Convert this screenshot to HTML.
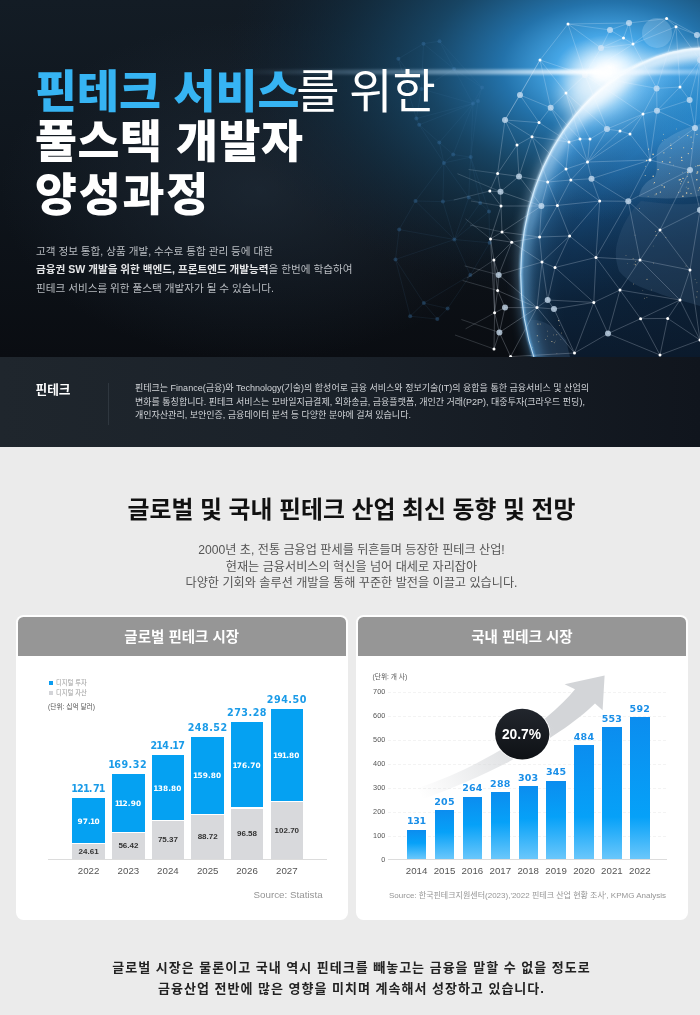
<!DOCTYPE html>
<html lang="ko"><head><meta charset="utf-8"><title>핀테크 서비스를 위한 풀스택 개발자 양성과정</title>
<style>
*{margin:0;padding:0;box-sizing:border-box}
html,body{width:700px;height:1015px;overflow:hidden;background:#ebebeb}
body{position:relative;font-family:'Liberation Sans','Noto Sans CJK KR',sans-serif;}
.a{position:absolute;white-space:nowrap}
#hero{position:absolute;left:0;top:0;width:700px;height:357px;overflow:hidden;
 background:linear-gradient(180deg,#131c25 0%,#0e141b 55%,#0a0d12 100%);}
#hero svg{position:absolute;left:0;top:0}
.t1{position:absolute;left:35px;top:66px;font-family:'Liberation Sans','Noto Sans CJK KR',sans-serif;font-weight:900;font-size:45.6px;line-height:51.5px;color:#fff;white-space:nowrap;}
.t1 .b{color:#36b4f3}
.t1 .l{font-weight:400;margin-left:-3px;font-size:47px;word-spacing:-3.5px}
.hp{position:absolute;left:36px;top:242px;font-size:10.6px;line-height:18.3px;color:#b9bdc2;font-weight:400;white-space:nowrap}
.hp b{font-weight:700;color:#e4e5e7}
#band{position:absolute;left:0;top:357px;width:700px;height:90px;background:linear-gradient(90deg,#1f262d 0%,#1a2129 50%,#10151d 100%)}
.bl{position:absolute;left:35.5px;top:21.5px;font-size:12.7px;font-weight:700;color:#fff;white-space:nowrap}
.bd{position:absolute;left:107.5px;top:26px;width:1px;height:42px;background:#2f373f}
.bp{position:absolute;left:135px;top:25.2px;font-size:9px;line-height:13.6px;color:#d2d5d9;font-weight:400;white-space:nowrap}
.st{position:absolute;left:1.5px;width:700px;top:489.5px;text-align:center;font-size:23.85px;font-weight:700;color:#111;white-space:nowrap;letter-spacing:0}
.sp{position:absolute;left:1.5px;width:700px;top:542px;text-align:center;font-size:12.15px;line-height:16.7px;color:#555;white-space:nowrap}
.card{position:absolute;top:615px;height:305px;background:#fff;border-radius:7.5px;overflow:hidden}
.ch{position:absolute;left:1.8px;top:1.8px;right:1.8px;height:39.4px;border-radius:5.5px 5.5px 0 0;background:#969696;color:#fff;font-size:14.5px;font-weight:700;text-align:center;line-height:40px}
.bb{position:absolute;background:#05a1f2}
.bg{position:absolute;background:#d8d9dc}
.lt,.li,.lg,.ly,.rt{position:absolute;width:60px;text-align:center;white-space:nowrap;font-family:'Liberation Sans',sans-serif}
.lt{font-family:'DejaVu Sans',sans-serif;font-size:9.6px;letter-spacing:.5px;font-weight:700;color:#1a9be8;line-height:12px}
.li{font-family:'DejaVu Sans',sans-serif;font-size:7.4px;letter-spacing:.1px;font-weight:700;color:#fff;line-height:12px}
.n3{font-style:normal;margin:0 -.9px}
.lg{font-size:8px;font-weight:700;color:#333;line-height:12px}
.ly{font-size:9.7px;color:#555;line-height:12px}
.rt{font-family:'DejaVu Sans',sans-serif;font-size:9.5px;letter-spacing:.2px;font-weight:700;color:#1a8fe8;line-height:12px}
.rb{position:absolute;background:linear-gradient(to top,#6ac7fb 0px,#06a1f8 min(42px,55%),#0b8def 100%)}
.gl{position:absolute;left:388px;width:279px;height:1px;background:repeating-linear-gradient(90deg,#f3f3f3 0 3px,transparent 3px 5px)}
.n1{font-style:normal;margin:0 -1.3px}
.n2{font-style:normal;margin:0 -.6px}
.axis{position:absolute;height:1px;background:#dcdcdc}
.ay{position:absolute;left:352px;width:33.3px;text-align:right;font-size:7.3px;color:#555;line-height:12px;font-family:'Liberation Sans',sans-serif}
.lgd{position:absolute;font-size:6.3px;color:#9a9a9a;white-space:nowrap;line-height:8px}
.unit{position:absolute;font-size:6.7px;color:#555;white-space:nowrap;line-height:8px}
.src{position:absolute;font-size:8px;color:#959595;white-space:nowrap;line-height:10px}
.ft{position:absolute;left:1.5px;width:700px;top:956.5px;text-align:center;font-size:13px;letter-spacing:1px;font-weight:700;color:#222;line-height:21.6px;white-space:nowrap}
</style></head><body>
<div id="hero">
<svg width="700" height="357" viewBox="0 0 700 357">
<defs>
<radialGradient id="gA" cx="0" cy="0" r="1" gradientUnits="userSpaceOnUse" gradientTransform="translate(610 68) scale(385 235)">
<stop offset="0" stop-color="#ffffff"/><stop offset=".05" stop-color="#bfe6ff"/><stop offset=".14" stop-color="#45a6e6"/><stop offset=".28" stop-color="#2372aa"/><stop offset=".48" stop-color="#184a6c" stop-opacity=".88"/><stop offset=".72" stop-color="#12334a" stop-opacity=".55"/><stop offset="1" stop-color="#0f2031" stop-opacity="0"/>
</radialGradient>
<linearGradient id="gG" x1="0" y1="43" x2="0" y2="357" gradientUnits="userSpaceOnUse">
<stop offset="0" stop-color="#4db0f0"/><stop offset=".18" stop-color="#2590d6"/><stop offset=".34" stop-color="#1b68a6"/><stop offset=".5" stop-color="#154876"/><stop offset=".66" stop-color="#103152"/><stop offset=".82" stop-color="#0c2239"/><stop offset="1" stop-color="#0b1a2c"/>
</linearGradient>
<radialGradient id="gGl" cx="0" cy="0" r="1" gradientUnits="userSpaceOnUse" gradientTransform="translate(595 80) scale(180 140)">
<stop offset="0" stop-color="#e6f6ff" stop-opacity=".95"/><stop offset=".2" stop-color="#8fd0fa" stop-opacity=".7"/><stop offset=".45" stop-color="#4aa0e0" stop-opacity=".35"/><stop offset="1" stop-color="#2a78b8" stop-opacity="0"/>
</radialGradient>
<radialGradient id="gGr" cx="0" cy="0" r="1" gradientUnits="userSpaceOnUse" gradientTransform="translate(760 300) scale(240 240)">
<stop offset="0" stop-color="#0b1a2c" stop-opacity=".55"/><stop offset=".8" stop-color="#0b1a2c" stop-opacity="0"/><stop offset="1" stop-color="#5aaee8" stop-opacity=".35"/>
</radialGradient>
<linearGradient id="gL" x1="560" y1="60" x2="530" y2="357" gradientUnits="userSpaceOnUse">
<stop offset="0" stop-color="#ffffff"/><stop offset=".35" stop-color="#d8efff"/><stop offset=".7" stop-color="#8fcaf5"/><stop offset="1" stop-color="#5aa6e0"/>
</linearGradient>
<linearGradient id="gS" x1="230" y1="0" x2="700" y2="0" gradientUnits="userSpaceOnUse">
<stop offset="0" stop-color="#9fd4ff" stop-opacity="0"/><stop offset=".5" stop-color="#cfeaff" stop-opacity=".45"/><stop offset=".78" stop-color="#ffffff" stop-opacity=".95"/><stop offset="1" stop-color="#bfe2ff" stop-opacity=".4"/>
</linearGradient>
<filter id="bl6" x="-50%" y="-50%" width="200%" height="200%"><feGaussianBlur stdDeviation="6"/></filter>
<filter id="bl10" x="-80%" y="-80%" width="260%" height="260%"><feGaussianBlur stdDeviation="10"/></filter>
<radialGradient id="gH" cx="0" cy="0" r="1" gradientUnits="userSpaceOnUse" gradientTransform="translate(260 190) scale(260 170)"><stop offset="0" stop-color="#2a3a4a" stop-opacity=".45"/><stop offset="1" stop-color="#2a3a4a" stop-opacity="0"/></radialGradient>
<filter id="bl4" x="-50%" y="-50%" width="200%" height="200%"><feGaussianBlur stdDeviation="3"/></filter>
<filter id="bl2" x="-50%" y="-50%" width="200%" height="200%"><feGaussianBlur stdDeviation="1"/></filter>
<clipPath id="cG"><ellipse cx="709.7" cy="274.4" rx="189.3" ry="226.9"/></clipPath>
<linearGradient id="gL2" x1="0" y1="40" x2="0" y2="240" gradientUnits="userSpaceOnUse"><stop offset="0" stop-color="#ffffff" stop-opacity=".95"/><stop offset=".45" stop-color="#bfe4ff" stop-opacity=".6"/><stop offset="1" stop-color="#6ab4ea" stop-opacity="0"/></linearGradient>
</defs>
<rect width="700" height="357" fill="url(#gH)"/>
<rect width="700" height="357" fill="url(#gA)"/>
<ellipse cx="709.7" cy="274.4" rx="189.3" ry="226.9" fill="url(#gG)"/>
<ellipse cx="709.7" cy="274.4" rx="189.3" ry="226.9" fill="url(#gGr)"/>
<ellipse cx="709.7" cy="274.4" rx="189.3" ry="226.9" fill="url(#gGl)"/>
<g clip-path="url(#cG)">
<path d="M641 201 C631 210 622 225 618 240 C614 252 616 262 619 271 C628 282 640 288 655 292 C670 298 688 302 700 306 L700 203 C680 206 660 203 641 201 Z" fill="#3f6080" opacity=".28"/>
<path d="M639 197 C640 188 646 181 655 177 C660 165 652 152 662 142 C676 131 690 127 700 124 L700 196 C680 199 660 199 639 197 Z" fill="#cfe2f2" opacity=".16"/>
<path d="M528 320 C540 318 556 326 566 340 L570 357 L524 357 Z" fill="#34506e" opacity=".4"/>
<g fill="#ffe2b0" opacity=".85"><circle cx="679.3" cy="179.9" r="0.71"/><circle cx="696.8" cy="179.8" r="0.77"/><circle cx="646.6" cy="160.6" r="0.77"/><circle cx="680.7" cy="191.1" r="0.40"/><circle cx="670.8" cy="145.3" r="0.59"/><circle cx="676.6" cy="128.9" r="0.45"/><circle cx="660.4" cy="192.1" r="0.69"/><circle cx="653.8" cy="183.8" r="0.41"/><circle cx="679.0" cy="136.9" r="0.35"/><circle cx="692.9" cy="142.7" r="0.45"/><circle cx="699.0" cy="189.1" r="0.48"/><circle cx="697.9" cy="165.7" r="0.66"/><circle cx="656.3" cy="193.9" r="0.66"/><circle cx="698.2" cy="190.6" r="0.48"/><circle cx="664.9" cy="139.6" r="0.42"/><circle cx="648.6" cy="149.1" r="0.62"/><circle cx="645.2" cy="175.5" r="0.50"/><circle cx="662.0" cy="185.3" r="0.57"/><circle cx="662.4" cy="161.7" r="0.67"/><circle cx="648.1" cy="196.3" r="0.36"/><circle cx="686.2" cy="187.1" r="0.36"/><circle cx="688.3" cy="153.6" r="0.61"/><circle cx="655.0" cy="194.9" r="0.44"/><circle cx="686.6" cy="193.1" r="0.77"/><circle cx="663.9" cy="152.8" r="0.59"/><circle cx="687.7" cy="135.6" r="0.69"/><circle cx="688.8" cy="188.2" r="0.37"/><circle cx="697.0" cy="134.4" r="0.50"/><circle cx="678.6" cy="192.3" r="0.50"/><circle cx="695.8" cy="166.2" r="0.49"/><circle cx="662.4" cy="140.4" r="0.39"/><circle cx="653.2" cy="176.2" r="0.80"/><circle cx="699.3" cy="165.3" r="0.53"/><circle cx="658.1" cy="169.6" r="0.72"/><circle cx="670.1" cy="157.5" r="0.38"/><circle cx="695.4" cy="130.3" r="0.57"/><circle cx="691.1" cy="137.1" r="0.68"/><circle cx="697.2" cy="172.1" r="0.70"/><circle cx="650.9" cy="158.4" r="0.42"/><circle cx="691.5" cy="148.6" r="0.55"/><circle cx="700.0" cy="187.7" r="0.79"/><circle cx="669.9" cy="162.2" r="0.68"/><circle cx="671.3" cy="148.4" r="0.53"/><circle cx="653.1" cy="154.4" r="0.79"/><circle cx="697.8" cy="171.9" r="0.57"/><circle cx="663.6" cy="134.2" r="0.47"/><circle cx="688.0" cy="188.7" r="0.51"/><circle cx="688.2" cy="182.2" r="0.66"/><circle cx="681.5" cy="181.2" r="0.51"/><circle cx="683.7" cy="147.7" r="0.57"/><circle cx="687.3" cy="176.4" r="0.48"/><circle cx="697.0" cy="173.5" r="0.61"/><circle cx="645.6" cy="166.3" r="0.46"/><circle cx="681.9" cy="160.4" r="0.72"/><circle cx="680.6" cy="183.8" r="0.51"/><circle cx="680.4" cy="179.6" r="0.72"/><circle cx="664.3" cy="187.0" r="0.74"/><circle cx="682.9" cy="196.3" r="0.78"/><circle cx="673.5" cy="165.1" r="0.42"/><circle cx="691.0" cy="193.6" r="0.56"/><circle cx="683.0" cy="178.4" r="0.68"/><circle cx="654.5" cy="182.6" r="0.61"/><circle cx="681.6" cy="157.5" r="0.63"/><circle cx="687.6" cy="172.6" r="0.67"/><circle cx="669.3" cy="173.5" r="0.45"/><circle cx="682.7" cy="172.2" r="0.37"/><circle cx="670.9" cy="143.8" r="0.37"/><circle cx="635.0" cy="235.1" r="0.35"/><circle cx="639.5" cy="208.4" r="0.42"/><circle cx="653.5" cy="263.1" r="0.45"/><circle cx="642.8" cy="290.8" r="0.30"/><circle cx="655.4" cy="231.5" r="0.40"/><circle cx="633.6" cy="284.0" r="0.39"/><circle cx="627.7" cy="263.3" r="0.32"/><circle cx="665.9" cy="237.2" r="0.45"/><circle cx="696.9" cy="282.8" r="0.40"/><circle cx="686.0" cy="266.0" r="0.39"/><circle cx="635.7" cy="261.6" r="0.44"/><circle cx="696.8" cy="297.0" r="0.45"/><circle cx="651.3" cy="289.9" r="0.30"/><circle cx="633.1" cy="258.8" r="0.45"/><circle cx="635.6" cy="264.8" r="0.52"/><circle cx="653.2" cy="246.0" r="0.36"/><circle cx="646.9" cy="297.4" r="0.39"/><circle cx="697.1" cy="291.8" r="0.45"/><circle cx="644.5" cy="298.2" r="0.42"/><circle cx="656.2" cy="235.3" r="0.55"/><circle cx="661.9" cy="232.2" r="0.42"/><circle cx="634.1" cy="264.1" r="0.41"/><circle cx="647.0" cy="279.3" r="0.51"/><circle cx="626.0" cy="255.6" r="0.37"/><circle cx="695.1" cy="279.3" r="0.36"/><circle cx="537.9" cy="324.0" r="0.60"/><circle cx="538.8" cy="341.7" r="0.44"/><circle cx="551.9" cy="341.6" r="0.52"/><circle cx="532.4" cy="347.7" r="0.39"/><circle cx="547.7" cy="331.1" r="0.39"/><circle cx="547.6" cy="336.1" r="0.41"/><circle cx="555.6" cy="341.0" r="0.31"/><circle cx="537.3" cy="335.8" r="0.57"/><circle cx="560.9" cy="339.3" r="0.30"/><circle cx="556.8" cy="334.7" r="0.47"/><circle cx="554.2" cy="342.7" r="0.44"/><circle cx="561.7" cy="333.0" r="0.42"/><circle cx="559.5" cy="325.7" r="0.39"/><circle cx="558.7" cy="320.6" r="0.55"/><circle cx="553.7" cy="334.9" r="0.39"/><circle cx="556.9" cy="353.5" r="0.34"/><circle cx="545.7" cy="339.4" r="0.45"/><circle cx="540.2" cy="324.0" r="0.48"/></g>
</g>
<g clip-path="url(#cG)"><ellipse cx="709.7" cy="274.4" rx="185" ry="222.5" fill="none" stroke="url(#gL2)" stroke-width="14" filter="url(#bl6)"/></g>
<ellipse cx="709.7" cy="274.4" rx="187" ry="224.6" fill="none" stroke="url(#gL)" stroke-width="8" filter="url(#bl6)" opacity=".55"/>
<ellipse cx="709.7" cy="274.4" rx="188.8" ry="226.4" fill="none" stroke="url(#gL)" stroke-width="2.4" filter="url(#bl2)"/>
<ellipse cx="709.7" cy="274.4" rx="189" ry="226.6" fill="none" stroke="#e8f6ff" stroke-width=".9" opacity=".8"/>
<g stroke="#e8f4ff" stroke-opacity=".42" stroke-width=".55">
<line x1="610.0" y1="30.0" x2="629.0" y2="23.0"/>
<line x1="610.0" y1="30.0" x2="623.5" y2="38.0"/>
<line x1="610.0" y1="30.0" x2="601.0" y2="48.0"/>
<line x1="610.0" y1="30.0" x2="568.0" y2="24.0"/>
<line x1="629.0" y1="23.0" x2="666.6" y2="18.6"/>
<line x1="629.0" y1="23.0" x2="623.5" y2="38.0"/>
<line x1="629.0" y1="23.0" x2="633.0" y2="44.0"/>
<line x1="629.0" y1="23.0" x2="568.0" y2="24.0"/>
<line x1="666.6" y1="18.6" x2="676.0" y2="26.7"/>
<line x1="666.6" y1="18.6" x2="697.0" y2="35.0"/>
<line x1="666.6" y1="18.6" x2="633.0" y2="44.0"/>
<line x1="676.0" y1="26.7" x2="697.0" y2="35.0"/>
<line x1="676.0" y1="26.7" x2="633.0" y2="44.0"/>
<line x1="676.0" y1="26.7" x2="656.6" y2="88.4"/>
<line x1="676.0" y1="26.7" x2="680.0" y2="87.0"/>
<line x1="676.0" y1="26.7" x2="700.0" y2="60.0"/>
<line x1="697.0" y1="35.0" x2="700.0" y2="60.0"/>
<line x1="623.5" y1="38.0" x2="633.0" y2="44.0"/>
<line x1="623.5" y1="38.0" x2="601.0" y2="48.0"/>
<line x1="633.0" y1="44.0" x2="601.0" y2="48.0"/>
<line x1="633.0" y1="44.0" x2="656.6" y2="88.4"/>
<line x1="633.0" y1="44.0" x2="585.0" y2="75.0"/>
<line x1="601.0" y1="48.0" x2="568.0" y2="24.0"/>
<line x1="601.0" y1="48.0" x2="585.0" y2="75.0"/>
<line x1="568.0" y1="24.0" x2="540.0" y2="60.0"/>
<line x1="568.0" y1="24.0" x2="585.0" y2="75.0"/>
<line x1="550.7" y1="107.7" x2="566.0" y2="93.0"/>
<line x1="550.7" y1="107.7" x2="539.0" y2="122.6"/>
<line x1="550.7" y1="107.7" x2="580.0" y2="139.0"/>
<line x1="550.7" y1="107.7" x2="569.0" y2="142.0"/>
<line x1="550.7" y1="107.7" x2="540.0" y2="60.0"/>
<line x1="550.7" y1="107.7" x2="520.0" y2="95.0"/>
<line x1="566.0" y1="93.0" x2="580.0" y2="139.0"/>
<line x1="566.0" y1="93.0" x2="590.0" y2="139.0"/>
<line x1="566.0" y1="93.0" x2="607.0" y2="129.0"/>
<line x1="566.0" y1="93.0" x2="540.0" y2="60.0"/>
<line x1="566.0" y1="93.0" x2="585.0" y2="75.0"/>
<line x1="539.0" y1="122.6" x2="532.0" y2="136.7"/>
<line x1="539.0" y1="122.6" x2="569.0" y2="142.0"/>
<line x1="539.0" y1="122.6" x2="520.0" y2="95.0"/>
<line x1="539.0" y1="122.6" x2="505.0" y2="120.0"/>
<line x1="532.0" y1="136.7" x2="517.0" y2="145.0"/>
<line x1="532.0" y1="136.7" x2="569.0" y2="142.0"/>
<line x1="532.0" y1="136.7" x2="566.0" y2="169.0"/>
<line x1="532.0" y1="136.7" x2="547.7" y2="182.0"/>
<line x1="532.0" y1="136.7" x2="519.0" y2="176.4"/>
<line x1="532.0" y1="136.7" x2="505.0" y2="120.0"/>
<line x1="517.0" y1="145.0" x2="519.0" y2="176.4"/>
<line x1="517.0" y1="145.0" x2="497.6" y2="173.5"/>
<line x1="517.0" y1="145.0" x2="505.0" y2="120.0"/>
<line x1="580.0" y1="139.0" x2="590.0" y2="139.0"/>
<line x1="580.0" y1="139.0" x2="569.0" y2="142.0"/>
<line x1="580.0" y1="139.0" x2="587.5" y2="162.0"/>
<line x1="590.0" y1="139.0" x2="607.0" y2="129.0"/>
<line x1="590.0" y1="139.0" x2="587.5" y2="162.0"/>
<line x1="607.0" y1="129.0" x2="620.0" y2="131.0"/>
<line x1="607.0" y1="129.0" x2="643.0" y2="114.0"/>
<line x1="607.0" y1="129.0" x2="587.5" y2="162.0"/>
<line x1="607.0" y1="129.0" x2="585.0" y2="75.0"/>
<line x1="620.0" y1="131.0" x2="630.0" y2="134.0"/>
<line x1="620.0" y1="131.0" x2="643.0" y2="114.0"/>
<line x1="620.0" y1="131.0" x2="587.5" y2="162.0"/>
<line x1="630.0" y1="134.0" x2="643.0" y2="114.0"/>
<line x1="630.0" y1="134.0" x2="587.5" y2="162.0"/>
<line x1="630.0" y1="134.0" x2="650.0" y2="160.0"/>
<line x1="656.6" y1="88.4" x2="657.0" y2="110.7"/>
<line x1="656.6" y1="88.4" x2="680.0" y2="87.0"/>
<line x1="656.6" y1="88.4" x2="643.0" y2="114.0"/>
<line x1="656.6" y1="88.4" x2="585.0" y2="75.0"/>
<line x1="657.0" y1="110.7" x2="680.0" y2="87.0"/>
<line x1="657.0" y1="110.7" x2="689.6" y2="100.0"/>
<line x1="657.0" y1="110.7" x2="695.0" y2="128.0"/>
<line x1="657.0" y1="110.7" x2="643.0" y2="114.0"/>
<line x1="657.0" y1="110.7" x2="650.0" y2="160.0"/>
<line x1="680.0" y1="87.0" x2="689.6" y2="100.0"/>
<line x1="680.0" y1="87.0" x2="700.0" y2="60.0"/>
<line x1="689.6" y1="100.0" x2="695.0" y2="128.0"/>
<line x1="689.6" y1="100.0" x2="700.0" y2="60.0"/>
<line x1="695.0" y1="128.0" x2="650.0" y2="160.0"/>
<line x1="695.0" y1="128.0" x2="690.0" y2="170.0"/>
<line x1="695.0" y1="128.0" x2="700.0" y2="60.0"/>
<line x1="643.0" y1="114.0" x2="650.0" y2="160.0"/>
<line x1="643.0" y1="114.0" x2="585.0" y2="75.0"/>
<line x1="569.0" y1="142.0" x2="587.5" y2="162.0"/>
<line x1="569.0" y1="142.0" x2="566.0" y2="169.0"/>
<line x1="587.5" y1="162.0" x2="566.0" y2="169.0"/>
<line x1="587.5" y1="162.0" x2="591.5" y2="178.7"/>
<line x1="587.5" y1="162.0" x2="570.8" y2="180.0"/>
<line x1="587.5" y1="162.0" x2="650.0" y2="160.0"/>
<line x1="566.0" y1="169.0" x2="570.8" y2="180.0"/>
<line x1="566.0" y1="169.0" x2="547.7" y2="182.0"/>
<line x1="591.5" y1="178.7" x2="570.8" y2="180.0"/>
<line x1="591.5" y1="178.7" x2="599.7" y2="201.0"/>
<line x1="591.5" y1="178.7" x2="628.3" y2="201.3"/>
<line x1="591.5" y1="178.7" x2="650.0" y2="160.0"/>
<line x1="570.8" y1="180.0" x2="547.7" y2="182.0"/>
<line x1="570.8" y1="180.0" x2="557.4" y2="205.4"/>
<line x1="570.8" y1="180.0" x2="599.7" y2="201.0"/>
<line x1="547.7" y1="182.0" x2="519.0" y2="176.4"/>
<line x1="547.7" y1="182.0" x2="541.4" y2="206.0"/>
<line x1="547.7" y1="182.0" x2="557.4" y2="205.4"/>
<line x1="519.0" y1="176.4" x2="497.6" y2="173.5"/>
<line x1="519.0" y1="176.4" x2="500.5" y2="191.7"/>
<line x1="519.0" y1="176.4" x2="541.4" y2="206.0"/>
<line x1="497.6" y1="173.5" x2="489.8" y2="191.0"/>
<line x1="497.6" y1="173.5" x2="500.5" y2="191.7"/>
<line x1="497.6" y1="173.5" x2="505.0" y2="120.0"/>
<line x1="489.8" y1="191.0" x2="500.5" y2="191.7"/>
<line x1="489.8" y1="191.0" x2="501.0" y2="206.0"/>
<line x1="500.5" y1="191.7" x2="501.0" y2="206.0"/>
<line x1="500.5" y1="191.7" x2="541.4" y2="206.0"/>
<line x1="501.0" y1="206.0" x2="541.4" y2="206.0"/>
<line x1="501.0" y1="206.0" x2="490.5" y2="238.9"/>
<line x1="501.0" y1="206.0" x2="502.0" y2="232.0"/>
<line x1="541.4" y1="206.0" x2="557.4" y2="205.4"/>
<line x1="541.4" y1="206.0" x2="502.0" y2="232.0"/>
<line x1="541.4" y1="206.0" x2="539.6" y2="237.0"/>
<line x1="557.4" y1="205.4" x2="599.7" y2="201.0"/>
<line x1="557.4" y1="205.4" x2="539.6" y2="237.0"/>
<line x1="557.4" y1="205.4" x2="569.6" y2="236.0"/>
<line x1="599.7" y1="201.0" x2="628.3" y2="201.3"/>
<line x1="599.7" y1="201.0" x2="569.6" y2="236.0"/>
<line x1="599.7" y1="201.0" x2="596.0" y2="257.4"/>
<line x1="628.3" y1="201.3" x2="596.0" y2="257.4"/>
<line x1="628.3" y1="201.3" x2="650.0" y2="160.0"/>
<line x1="628.3" y1="201.3" x2="690.0" y2="170.0"/>
<line x1="628.3" y1="201.3" x2="660.0" y2="230.0"/>
<line x1="628.3" y1="201.3" x2="640.0" y2="260.0"/>
<line x1="490.5" y1="238.9" x2="502.0" y2="232.0"/>
<line x1="490.5" y1="238.9" x2="511.7" y2="242.2"/>
<line x1="490.5" y1="238.9" x2="493.9" y2="260.0"/>
<line x1="490.5" y1="238.9" x2="494.6" y2="312.8"/>
<line x1="502.0" y1="232.0" x2="511.7" y2="242.2"/>
<line x1="502.0" y1="232.0" x2="539.6" y2="237.0"/>
<line x1="511.7" y1="242.2" x2="539.6" y2="237.0"/>
<line x1="511.7" y1="242.2" x2="493.9" y2="260.0"/>
<line x1="511.7" y1="242.2" x2="498.7" y2="274.9"/>
<line x1="511.7" y1="242.2" x2="542.0" y2="262.0"/>
<line x1="539.6" y1="237.0" x2="569.6" y2="236.0"/>
<line x1="539.6" y1="237.0" x2="542.0" y2="262.0"/>
<line x1="569.6" y1="236.0" x2="596.0" y2="257.4"/>
<line x1="569.6" y1="236.0" x2="542.0" y2="262.0"/>
<line x1="569.6" y1="236.0" x2="555.0" y2="267.5"/>
<line x1="596.0" y1="257.4" x2="555.0" y2="267.5"/>
<line x1="596.0" y1="257.4" x2="593.8" y2="302.4"/>
<line x1="596.0" y1="257.4" x2="640.0" y2="260.0"/>
<line x1="596.0" y1="257.4" x2="620.0" y2="290.0"/>
<line x1="493.9" y1="260.0" x2="498.7" y2="274.9"/>
<line x1="493.9" y1="260.0" x2="497.6" y2="290.5"/>
<line x1="493.9" y1="260.0" x2="494.6" y2="312.8"/>
<line x1="498.7" y1="274.9" x2="542.0" y2="262.0"/>
<line x1="498.7" y1="274.9" x2="497.6" y2="290.5"/>
<line x1="498.7" y1="274.9" x2="537.0" y2="307.6"/>
<line x1="542.0" y1="262.0" x2="555.0" y2="267.5"/>
<line x1="542.0" y1="262.0" x2="547.7" y2="300.0"/>
<line x1="542.0" y1="262.0" x2="537.0" y2="307.6"/>
<line x1="555.0" y1="267.5" x2="547.7" y2="300.0"/>
<line x1="555.0" y1="267.5" x2="593.8" y2="302.4"/>
<line x1="497.6" y1="290.5" x2="505.0" y2="307.6"/>
<line x1="497.6" y1="290.5" x2="494.6" y2="312.8"/>
<line x1="497.6" y1="290.5" x2="537.0" y2="307.6"/>
<line x1="505.0" y1="307.6" x2="494.6" y2="312.8"/>
<line x1="505.0" y1="307.6" x2="537.0" y2="307.6"/>
<line x1="505.0" y1="307.6" x2="499.4" y2="332.5"/>
<line x1="494.6" y1="312.8" x2="499.4" y2="332.5"/>
<line x1="494.6" y1="312.8" x2="494.0" y2="349.0"/>
<line x1="547.7" y1="300.0" x2="537.0" y2="307.6"/>
<line x1="547.7" y1="300.0" x2="554.0" y2="309.0"/>
<line x1="547.7" y1="300.0" x2="593.8" y2="302.4"/>
<line x1="537.0" y1="307.6" x2="554.0" y2="309.0"/>
<line x1="537.0" y1="307.6" x2="499.4" y2="332.5"/>
<line x1="537.0" y1="307.6" x2="574.5" y2="353.0"/>
<line x1="537.0" y1="307.6" x2="510.6" y2="356.6"/>
<line x1="554.0" y1="309.0" x2="593.8" y2="302.4"/>
<line x1="554.0" y1="309.0" x2="574.5" y2="353.0"/>
<line x1="593.8" y1="302.4" x2="608.0" y2="333.6"/>
<line x1="593.8" y1="302.4" x2="574.5" y2="353.0"/>
<line x1="593.8" y1="302.4" x2="620.0" y2="290.0"/>
<line x1="640.6" y1="318.7" x2="667.7" y2="318.4"/>
<line x1="640.6" y1="318.7" x2="608.0" y2="333.6"/>
<line x1="640.6" y1="318.7" x2="660.0" y2="355.0"/>
<line x1="640.6" y1="318.7" x2="620.0" y2="290.0"/>
<line x1="640.6" y1="318.7" x2="680.0" y2="300.0"/>
<line x1="667.7" y1="318.4" x2="700.0" y2="340.0"/>
<line x1="667.7" y1="318.4" x2="660.0" y2="355.0"/>
<line x1="667.7" y1="318.4" x2="680.0" y2="300.0"/>
<line x1="499.4" y1="332.5" x2="494.0" y2="349.0"/>
<line x1="499.4" y1="332.5" x2="510.6" y2="356.6"/>
<line x1="608.0" y1="333.6" x2="574.5" y2="353.0"/>
<line x1="608.0" y1="333.6" x2="660.0" y2="355.0"/>
<line x1="608.0" y1="333.6" x2="620.0" y2="290.0"/>
<line x1="574.5" y1="353.0" x2="510.6" y2="356.6"/>
<line x1="650.0" y1="160.0" x2="690.0" y2="170.0"/>
<line x1="690.0" y1="170.0" x2="660.0" y2="230.0"/>
<line x1="690.0" y1="170.0" x2="700.0" y2="210.0"/>
<line x1="660.0" y1="230.0" x2="700.0" y2="210.0"/>
<line x1="660.0" y1="230.0" x2="640.0" y2="260.0"/>
<line x1="660.0" y1="230.0" x2="690.0" y2="270.0"/>
<line x1="700.0" y1="210.0" x2="690.0" y2="270.0"/>
<line x1="640.0" y1="260.0" x2="690.0" y2="270.0"/>
<line x1="640.0" y1="260.0" x2="620.0" y2="290.0"/>
<line x1="640.0" y1="260.0" x2="680.0" y2="300.0"/>
<line x1="690.0" y1="270.0" x2="700.0" y2="340.0"/>
<line x1="690.0" y1="270.0" x2="680.0" y2="300.0"/>
<line x1="700.0" y1="340.0" x2="660.0" y2="355.0"/>
<line x1="700.0" y1="340.0" x2="680.0" y2="300.0"/>
<line x1="620.0" y1="290.0" x2="680.0" y2="300.0"/>
<line x1="540.0" y1="60.0" x2="585.0" y2="75.0"/>
<line x1="540.0" y1="60.0" x2="520.0" y2="95.0"/>
<line x1="540.0" y1="60.0" x2="505.0" y2="120.0"/>
<line x1="520.0" y1="95.0" x2="505.0" y2="120.0"/>
<line x1="497.6" y1="173.5" x2="468.6" y2="169.5" stroke-opacity=".3"/>
<line x1="489.8" y1="191.0" x2="453.8" y2="200.0" stroke-opacity=".3"/>
<line x1="500.5" y1="191.7" x2="457.5" y2="173.7" stroke-opacity=".3"/>
<line x1="501.0" y1="206.0" x2="471.0" y2="201.0" stroke-opacity=".3"/>
<line x1="490.5" y1="238.9" x2="465.5" y2="218.9" stroke-opacity=".3"/>
<line x1="502.0" y1="232.0" x2="470.0" y2="225.0" stroke-opacity=".3"/>
<line x1="493.9" y1="260.0" x2="466.9" y2="278.0" stroke-opacity=".3"/>
<line x1="498.7" y1="274.9" x2="464.7" y2="265.9" stroke-opacity=".3"/>
<line x1="497.6" y1="290.5" x2="462.6" y2="280.5" stroke-opacity=".3"/>
<line x1="494.6" y1="312.8" x2="465.6" y2="328.8" stroke-opacity=".3"/>
<line x1="499.4" y1="332.5" x2="461.4" y2="319.5" stroke-opacity=".3"/>
<line x1="494.0" y1="349.0" x2="455.0" y2="335.0" stroke-opacity=".3"/>
</g><g fill="#fff">
<circle cx="610.0" cy="30.0" r="3" fill="#cfe3f5" fill-opacity=".75"/>
<circle cx="629.0" cy="23.0" r="3" fill="#cfe3f5" fill-opacity=".75"/>
<circle cx="666.6" cy="18.6" r="1.5"/>
<circle cx="676.0" cy="26.7" r="1.5"/>
<circle cx="697.0" cy="35.0" r="3" fill="#cfe3f5" fill-opacity=".75"/>
<circle cx="623.5" cy="38.0" r="1.5"/>
<circle cx="633.0" cy="44.0" r="1.5"/>
<circle cx="601.0" cy="48.0" r="3" fill="#cfe3f5" fill-opacity=".75"/>
<circle cx="568.0" cy="24.0" r="1.5"/>
<circle cx="550.7" cy="107.7" r="3" fill="#cfe3f5" fill-opacity=".75"/>
<circle cx="566.0" cy="93.0" r="1.5"/>
<circle cx="539.0" cy="122.6" r="1.5"/>
<circle cx="532.0" cy="136.7" r="1.5"/>
<circle cx="517.0" cy="145.0" r="1.5"/>
<circle cx="580.0" cy="139.0" r="1.5"/>
<circle cx="590.0" cy="139.0" r="1.5"/>
<circle cx="607.0" cy="129.0" r="3" fill="#cfe3f5" fill-opacity=".75"/>
<circle cx="620.0" cy="131.0" r="1.5"/>
<circle cx="630.0" cy="134.0" r="1.5"/>
<circle cx="656.6" cy="88.4" r="3" fill="#cfe3f5" fill-opacity=".75"/>
<circle cx="657.0" cy="110.7" r="3" fill="#cfe3f5" fill-opacity=".75"/>
<circle cx="680.0" cy="87.0" r="1.5"/>
<circle cx="689.6" cy="100.0" r="3" fill="#cfe3f5" fill-opacity=".75"/>
<circle cx="695.0" cy="128.0" r="3" fill="#cfe3f5" fill-opacity=".75"/>
<circle cx="643.0" cy="114.0" r="1.5"/>
<circle cx="569.0" cy="142.0" r="1.5"/>
<circle cx="587.5" cy="162.0" r="1.5"/>
<circle cx="566.0" cy="169.0" r="1.5"/>
<circle cx="591.5" cy="178.7" r="3" fill="#cfe3f5" fill-opacity=".75"/>
<circle cx="570.8" cy="180.0" r="1.5"/>
<circle cx="547.7" cy="182.0" r="1.5"/>
<circle cx="519.0" cy="176.4" r="3" fill="#cfe3f5" fill-opacity=".75"/>
<circle cx="497.6" cy="173.5" r="1.5"/>
<circle cx="489.8" cy="191.0" r="1.5"/>
<circle cx="500.5" cy="191.7" r="3" fill="#cfe3f5" fill-opacity=".75"/>
<circle cx="501.0" cy="206.0" r="1.5"/>
<circle cx="541.4" cy="206.0" r="3" fill="#cfe3f5" fill-opacity=".75"/>
<circle cx="557.4" cy="205.4" r="1.5"/>
<circle cx="599.7" cy="201.0" r="1.5"/>
<circle cx="628.3" cy="201.3" r="3" fill="#cfe3f5" fill-opacity=".75"/>
<circle cx="490.5" cy="238.9" r="1.5"/>
<circle cx="502.0" cy="232.0" r="1.5"/>
<circle cx="511.7" cy="242.2" r="1.5"/>
<circle cx="539.6" cy="237.0" r="1.5"/>
<circle cx="569.6" cy="236.0" r="1.5"/>
<circle cx="596.0" cy="257.4" r="1.5"/>
<circle cx="493.9" cy="260.0" r="1.5"/>
<circle cx="498.7" cy="274.9" r="3" fill="#cfe3f5" fill-opacity=".75"/>
<circle cx="542.0" cy="262.0" r="1.5"/>
<circle cx="555.0" cy="267.5" r="1.5"/>
<circle cx="497.6" cy="290.5" r="1.5"/>
<circle cx="505.0" cy="307.6" r="3" fill="#cfe3f5" fill-opacity=".75"/>
<circle cx="494.6" cy="312.8" r="1.5"/>
<circle cx="547.7" cy="300.0" r="3" fill="#cfe3f5" fill-opacity=".75"/>
<circle cx="537.0" cy="307.6" r="1.5"/>
<circle cx="554.0" cy="309.0" r="3" fill="#cfe3f5" fill-opacity=".75"/>
<circle cx="593.8" cy="302.4" r="1.5"/>
<circle cx="640.6" cy="318.7" r="1.5"/>
<circle cx="667.7" cy="318.4" r="1.5"/>
<circle cx="499.4" cy="332.5" r="3" fill="#cfe3f5" fill-opacity=".75"/>
<circle cx="608.0" cy="333.6" r="3" fill="#cfe3f5" fill-opacity=".75"/>
<circle cx="574.5" cy="353.0" r="1.5"/>
<circle cx="494.0" cy="349.0" r="1.5"/>
<circle cx="510.6" cy="356.6" r="1.5"/>
<circle cx="650.0" cy="160.0" r="1.5"/>
<circle cx="690.0" cy="170.0" r="3" fill="#cfe3f5" fill-opacity=".75"/>
<circle cx="660.0" cy="230.0" r="1.5"/>
<circle cx="700.0" cy="210.0" r="3" fill="#cfe3f5" fill-opacity=".75"/>
<circle cx="640.0" cy="260.0" r="1.5"/>
<circle cx="690.0" cy="270.0" r="1.5"/>
<circle cx="700.0" cy="340.0" r="1.5"/>
<circle cx="660.0" cy="355.0" r="1.5"/>
<circle cx="620.0" cy="290.0" r="1.5"/>
<circle cx="680.0" cy="300.0" r="1.5"/>
<circle cx="700.0" cy="60.0" r="3" fill="#cfe3f5" fill-opacity=".75"/>
<circle cx="540.0" cy="60.0" r="1.5"/>
<circle cx="585.0" cy="75.0" r="3" fill="#cfe3f5" fill-opacity=".75"/>
<circle cx="520.0" cy="95.0" r="3" fill="#cfe3f5" fill-opacity=".75"/>
<circle cx="505.0" cy="120.0" r="3" fill="#cfe3f5" fill-opacity=".75"/>
</g>
<g stroke="#4a7fb0" stroke-opacity=".22" stroke-width=".5">
<line x1="454.4" y1="239.5" x2="480.2" y2="203.0"/>
<line x1="454.4" y1="239.5" x2="468.7" y2="197.5"/>
<line x1="454.4" y1="239.5" x2="395.5" y2="259.4"/>
<line x1="454.4" y1="239.5" x2="442.9" y2="201.6"/>
<line x1="454.4" y1="239.5" x2="489.6" y2="242.8"/>
<line x1="454.4" y1="239.5" x2="470.3" y2="275.1"/>
<line x1="454.4" y1="239.5" x2="489.0" y2="211.5"/>
<line x1="454.4" y1="239.5" x2="415.5" y2="201.0"/>
<line x1="454.4" y1="239.5" x2="399.2" y2="229.6"/>
<line x1="480.2" y1="203.0" x2="468.7" y2="197.5"/>
<line x1="480.2" y1="203.0" x2="470.7" y2="157.1"/>
<line x1="480.2" y1="203.0" x2="489.0" y2="211.5"/>
<line x1="468.7" y1="197.5" x2="470.7" y2="157.1"/>
<line x1="468.7" y1="197.5" x2="442.9" y2="201.6"/>
<line x1="468.7" y1="197.5" x2="443.9" y2="162.9"/>
<line x1="416.4" y1="118.5" x2="473.0" y2="103.6"/>
<line x1="416.4" y1="118.5" x2="421.5" y2="89.0"/>
<line x1="416.4" y1="118.5" x2="419.2" y2="124.8"/>
<line x1="416.4" y1="118.5" x2="398.4" y2="58.8"/>
<line x1="423.5" y1="43.7" x2="439.5" y2="41.2"/>
<line x1="423.5" y1="43.7" x2="421.5" y2="89.0"/>
<line x1="423.5" y1="43.7" x2="454.1" y2="69.0"/>
<line x1="423.5" y1="43.7" x2="398.4" y2="58.8"/>
<line x1="478.0" y1="101.0" x2="473.0" y2="103.6"/>
<line x1="478.0" y1="101.0" x2="470.7" y2="157.1"/>
<line x1="478.0" y1="101.0" x2="482.1" y2="87.6"/>
<line x1="395.5" y1="259.4" x2="423.8" y2="303.1"/>
<line x1="395.5" y1="259.4" x2="410.2" y2="316.2"/>
<line x1="395.5" y1="259.4" x2="399.2" y2="229.6"/>
<line x1="473.0" y1="103.6" x2="470.7" y2="157.1"/>
<line x1="473.0" y1="103.6" x2="421.5" y2="89.0"/>
<line x1="473.0" y1="103.6" x2="419.2" y2="124.8"/>
<line x1="473.0" y1="103.6" x2="454.1" y2="69.0"/>
<line x1="473.0" y1="103.6" x2="453.2" y2="154.5"/>
<line x1="473.0" y1="103.6" x2="439.3" y2="142.4"/>
<line x1="473.0" y1="103.6" x2="482.1" y2="87.6"/>
<line x1="470.7" y1="157.1" x2="489.0" y2="211.5"/>
<line x1="470.7" y1="157.1" x2="453.2" y2="154.5"/>
<line x1="470.7" y1="157.1" x2="443.9" y2="162.9"/>
<line x1="439.5" y1="41.2" x2="454.1" y2="69.0"/>
<line x1="439.5" y1="41.2" x2="482.1" y2="87.6"/>
<line x1="423.8" y1="303.1" x2="437.3" y2="319.1"/>
<line x1="423.8" y1="303.1" x2="447.6" y2="308.5"/>
<line x1="423.8" y1="303.1" x2="470.3" y2="275.1"/>
<line x1="423.8" y1="303.1" x2="410.2" y2="316.2"/>
<line x1="421.5" y1="89.0" x2="454.1" y2="69.0"/>
<line x1="421.5" y1="89.0" x2="398.4" y2="58.8"/>
<line x1="419.2" y1="124.8" x2="443.9" y2="162.9"/>
<line x1="419.2" y1="124.8" x2="439.3" y2="142.4"/>
<line x1="437.3" y1="319.1" x2="447.6" y2="308.5"/>
<line x1="437.3" y1="319.1" x2="410.2" y2="316.2"/>
<line x1="442.9" y1="201.6" x2="415.5" y2="201.0"/>
<line x1="442.9" y1="201.6" x2="443.9" y2="162.9"/>
<line x1="447.6" y1="308.5" x2="470.3" y2="275.1"/>
<line x1="489.6" y1="242.8" x2="470.3" y2="275.1"/>
<line x1="489.6" y1="242.8" x2="489.0" y2="211.5"/>
<line x1="454.1" y1="69.0" x2="482.1" y2="87.6"/>
<line x1="415.5" y1="201.0" x2="399.2" y2="229.6"/>
<line x1="415.5" y1="201.0" x2="443.9" y2="162.9"/>
<line x1="453.2" y1="154.5" x2="443.9" y2="162.9"/>
<line x1="453.2" y1="154.5" x2="439.3" y2="142.4"/>
<line x1="443.9" y1="162.9" x2="439.3" y2="142.4"/>
</g><g fill="#3d79b0" fill-opacity=".35">
<circle cx="454.4" cy="239.5" r="2"/>
<circle cx="480.2" cy="203.0" r="2"/>
<circle cx="468.7" cy="197.5" r="2"/>
<circle cx="416.4" cy="118.5" r="2"/>
<circle cx="423.5" cy="43.7" r="2"/>
<circle cx="478.0" cy="101.0" r="2"/>
<circle cx="395.5" cy="259.4" r="2"/>
<circle cx="473.0" cy="103.6" r="2"/>
<circle cx="470.7" cy="157.1" r="2"/>
<circle cx="439.5" cy="41.2" r="2"/>
<circle cx="423.8" cy="303.1" r="2"/>
<circle cx="421.5" cy="89.0" r="2"/>
<circle cx="419.2" cy="124.8" r="2"/>
<circle cx="437.3" cy="319.1" r="2"/>
<circle cx="442.9" cy="201.6" r="2"/>
<circle cx="447.6" cy="308.5" r="2"/>
<circle cx="489.6" cy="242.8" r="2"/>
<circle cx="470.3" cy="275.1" r="2"/>
<circle cx="454.1" cy="69.0" r="2"/>
<circle cx="489.0" cy="211.5" r="2"/>
<circle cx="415.5" cy="201.0" r="2"/>
<circle cx="410.2" cy="316.2" r="2"/>
<circle cx="453.2" cy="154.5" r="2"/>
<circle cx="399.2" cy="229.6" r="2"/>
<circle cx="398.4" cy="58.8" r="2"/>
<circle cx="443.9" cy="162.9" r="2"/>
<circle cx="439.3" cy="142.4" r="2"/>
<circle cx="482.1" cy="87.6" r="2"/>
</g>
<circle cx="657" cy="33" r="15" fill="#d5eeff" fill-opacity=".22"/>
<rect x="230" y="69.5" width="470" height="5" fill="url(#gS)" filter="url(#bl2)"/>
<ellipse cx="596" cy="84" rx="38" ry="24" fill="#ffffff" filter="url(#bl10)" opacity=".75" transform="rotate(-35 596 84)"/>
<ellipse cx="603" cy="74" rx="12" ry="7" fill="#ffffff" filter="url(#bl4)" opacity=".9"/>
</svg>
<div class="t1"><span class="b">핀테크 서비스</span><span class="l">를 위한</span></div>
<div class="t1" style="top:117px;letter-spacing:.6px">풀스택 개발자</div>
<div class="t1" style="top:169.5px;letter-spacing:1.8px">양성과정</div>
<div class="hp">고객 정보 통합, 상품 개발, 수수료 통합 관리 등에 대한<br><b>금융권 SW 개발을 위한 백엔드, 프론트엔드 개발능력</b>을 한번에 학습하여<br>핀테크 서비스를 위한 풀스택 개발자가 될 수 있습니다.</div>
</div>
<div id="band">
<div class="bl">핀테크</div>
<div class="bd"></div>
<div class="bp">핀테크는 Finance(금융)와 Technology(기술)의 합성어로 금융 서비스와 정보기술(IT)의 융합을 통한 금융서비스 및 산업의<br>변화를 통칭합니다. 핀테크 서비스는 모바일지급결제, 외화송금, 금융플랫폼, 개인간 거래(P2P), 대중투자(크라우드 펀딩),<br>개인자산관리, 보안인증, 금융데이터 분석 등 다양한 분야에 걸쳐 있습니다.</div>
</div>
<div class="st">글로벌 및 국내 핀테크 산업 최신 동향 및 전망</div>
<div class="sp">2000년 초, 전통 금융업 판세를 뒤흔들며 등장한 핀테크 산업!<br>현재는 금융서비스의 혁신을 넘어 대세로 자리잡아<br>다양한 기회와 솔루션 개발을 통해 꾸준한 발전을 이끌고 있습니다.</div>

<div class="card" style="left:16px;width:331.5px"><div class="ch">글로벌 핀테크 시장</div></div>
<div class="card" style="left:356.3px;width:331.4px"><div class="ch">국내 핀테크 시장</div></div>

<div class="a" style="left:48.5px;top:681px;width:4px;height:4px;background:#0a9cf0"></div>
<div class="lgd" style="left:56px;top:679px">디지털 투자</div>
<div class="a" style="left:48.5px;top:690.5px;width:4px;height:4px;background:#d3d4d8"></div>
<div class="lgd" style="left:56px;top:688.5px">디지털 자산</div>
<div class="unit" style="left:48px;top:703px">(단위: 십억 달러)</div>
<div class="axis" style="left:48px;width:279px;top:859px"></div>
<div class="bb" style="left:72.3px;top:797.6px;width:32.6px;height:45.5px"></div>
<div class="bg" style="left:72.3px;top:844.1px;width:32.6px;height:15.4px"></div>
<div class="lt" style="left:58.6px;top:782.6px"><i class="n1">1</i>2<i class="n1">1</i>.7<i class="n1">1</i></div>
<div class="li" style="left:58.6px;top:815.6px">97.<i class="n3">1</i>0</div>
<div class="lg" style="left:58.6px;top:846.1px">24.61</div>
<div class="ly" style="left:58.6px;top:864.5px">2022</div>
<div class="bb" style="left:112.1px;top:773.6px;width:32.6px;height:58.0px"></div>
<div class="bg" style="left:112.1px;top:832.6px;width:32.6px;height:26.9px"></div>
<div class="lt" style="left:98.4px;top:758.6px"><i class="n1">1</i>69.32</div>
<div class="li" style="left:98.4px;top:797.8px"><i class="n3">1</i><i class="n3">1</i>2.90</div>
<div class="lg" style="left:98.4px;top:840.3px">56.42</div>
<div class="ly" style="left:98.4px;top:864.5px">2023</div>
<div class="bb" style="left:151.6px;top:755px;width:32.6px;height:64.6px"></div>
<div class="bg" style="left:151.6px;top:820.6px;width:32.6px;height:38.9px"></div>
<div class="lt" style="left:137.9px;top:740.0px">2<i class="n1">1</i>4.<i class="n1">1</i>7</div>
<div class="li" style="left:137.9px;top:782.5px"><i class="n3">1</i>38.80</div>
<div class="lg" style="left:137.9px;top:834.3px">75.37</div>
<div class="ly" style="left:137.9px;top:864.5px">2024</div>
<div class="bb" style="left:191.4px;top:736.5px;width:32.6px;height:77.2px"></div>
<div class="bg" style="left:191.4px;top:814.7px;width:32.6px;height:44.8px"></div>
<div class="lt" style="left:177.7px;top:721.5px">248.52</div>
<div class="li" style="left:177.7px;top:770.3px"><i class="n3">1</i>59.80</div>
<div class="lg" style="left:177.7px;top:831.4px">88.72</div>
<div class="ly" style="left:177.7px;top:864.5px">2025</div>
<div class="bb" style="left:230.7px;top:721.8px;width:32.6px;height:85.7px"></div>
<div class="bg" style="left:230.7px;top:808.5px;width:32.6px;height:51.0px"></div>
<div class="lt" style="left:217.0px;top:706.8px">273.28</div>
<div class="li" style="left:217.0px;top:759.9px"><i class="n3">1</i>76.70</div>
<div class="lg" style="left:217.0px;top:828.3px">96.58</div>
<div class="ly" style="left:217.0px;top:864.5px">2026</div>
<div class="bb" style="left:270.5px;top:709.3px;width:32.6px;height:91.8px"></div>
<div class="bg" style="left:270.5px;top:802.1px;width:32.6px;height:57.4px"></div>
<div class="lt" style="left:256.8px;top:694.3px">294.50</div>
<div class="li" style="left:256.8px;top:750.4px"><i class="n3">1</i>9<i class="n3">1</i>.80</div>
<div class="lg" style="left:256.8px;top:825.1px">102.70</div>
<div class="ly" style="left:256.8px;top:864.5px">2027</div>
<div class="src" style="left:253.5px;top:890.3px;font-size:9.8px;line-height:10px">Source: Statista</div>

<div class="unit" style="left:372.5px;top:673px">(단위: 개 사)</div>
<div class="ay" style="top:853.5px">0</div>
<div class="gl" style="top:835.5px"></div>
<div class="ay" style="top:829.5px">100</div>
<div class="gl" style="top:811.5px"></div>
<div class="ay" style="top:805.5px">200</div>
<div class="gl" style="top:787.5px"></div>
<div class="ay" style="top:781.5px">300</div>
<div class="gl" style="top:763.5px"></div>
<div class="ay" style="top:757.5px">400</div>
<div class="gl" style="top:739.5px"></div>
<div class="ay" style="top:733.5px">500</div>
<div class="gl" style="top:715.5px"></div>
<div class="ay" style="top:709.5px">600</div>
<div class="gl" style="top:691.5px"></div>
<div class="ay" style="top:685.5px">700</div>
<div class="axis" style="left:388px;width:279px;top:859px"></div>
<div class="rb" style="left:406.9px;top:829.7px;width:19.5px;height:29.8px"></div>
<div class="rt" style="left:386.6px;top:815.0px"><i class="n2">1</i>3<i class="n2">1</i></div>
<div class="ly" style="left:386.6px;top:864.5px">2014</div>
<div class="rb" style="left:434.8px;top:810.2px;width:19.5px;height:49.3px"></div>
<div class="rt" style="left:414.5px;top:795.5px">205</div>
<div class="ly" style="left:414.5px;top:864.5px">2015</div>
<div class="rb" style="left:462.7px;top:796.8px;width:19.5px;height:62.7px"></div>
<div class="rt" style="left:442.4px;top:782.1px">264</div>
<div class="ly" style="left:442.4px;top:864.5px">2016</div>
<div class="rb" style="left:490.6px;top:792.3px;width:19.5px;height:67.2px"></div>
<div class="rt" style="left:470.3px;top:777.6px">288</div>
<div class="ly" style="left:470.3px;top:864.5px">2017</div>
<div class="rb" style="left:518.5px;top:786.2px;width:19.5px;height:73.3px"></div>
<div class="rt" style="left:498.2px;top:771.5px">303</div>
<div class="ly" style="left:498.2px;top:864.5px">2018</div>
<div class="rb" style="left:546.3px;top:780.8px;width:19.5px;height:78.7px"></div>
<div class="rt" style="left:526.1px;top:766.1px">345</div>
<div class="ly" style="left:526.1px;top:864.5px">2019</div>
<div class="rb" style="left:574.2px;top:745.4px;width:19.5px;height:114.1px"></div>
<div class="rt" style="left:554.0px;top:730.7px">484</div>
<div class="ly" style="left:554.0px;top:864.5px">2020</div>
<div class="rb" style="left:602.1px;top:727.4px;width:19.5px;height:132.1px"></div>
<div class="rt" style="left:581.9px;top:712.7px">553</div>
<div class="ly" style="left:581.9px;top:864.5px">2021</div>
<div class="rb" style="left:630.0px;top:717.4px;width:19.5px;height:142.1px"></div>
<div class="rt" style="left:609.8px;top:702.7px">592</div>
<div class="ly" style="left:609.8px;top:864.5px">2022</div>
<svg class="a" style="left:0;top:0" width="700" height="1015" viewBox="0 0 700 1015">
<defs><linearGradient id="gAr" x1="420" y1="795" x2="600" y2="680" gradientUnits="userSpaceOnUse">
<stop offset="0" stop-color="#d4d6d9" stop-opacity="0"/><stop offset=".35" stop-color="#d4d6d9" stop-opacity=".55"/><stop offset=".7" stop-color="#d3d5d8"/><stop offset="1" stop-color="#d3d5d8"/></linearGradient>
<linearGradient id="gC" x1="0" y1="709" x2="0" y2="759" gradientUnits="userSpaceOnUse"><stop offset="0" stop-color="#22262d"/><stop offset="1" stop-color="#0e1115"/></linearGradient></defs>
<path d="M575 689.3 L564.6 684.3 L604.6 675.4 L602.6 710.3 L595 703.6 C565 733, 500 772, 420 800 L418 788 C490 764, 548 722, 575 689.3 Z" fill="url(#gAr)"/>
<ellipse cx="522.25" cy="734.1" rx="28" ry="26.1" fill="#fff"/>
<ellipse cx="522.25" cy="734.1" rx="27.15" ry="25.3" fill="url(#gC)"/>
<text x="521.5" y="738.7" text-anchor="middle" font-family="Liberation Sans, sans-serif" font-weight="700" font-size="13.8" fill="#fff">20.7%</text>
</svg>
<div class="src" style="left:389px;top:890.5px">Source: 한국핀테크지원센터(2023),'2022 핀테크 산업 현황 조사', KPMG Analysis</div>

<div class="ft">글로벌 시장은 물론이고 국내 역시 핀테크를 빼놓고는 금융을 말할 수 없을 정도로<br>금융산업 전반에 많은 영향을 미치며 계속해서 성장하고 있습니다.</div>
</body></html>
